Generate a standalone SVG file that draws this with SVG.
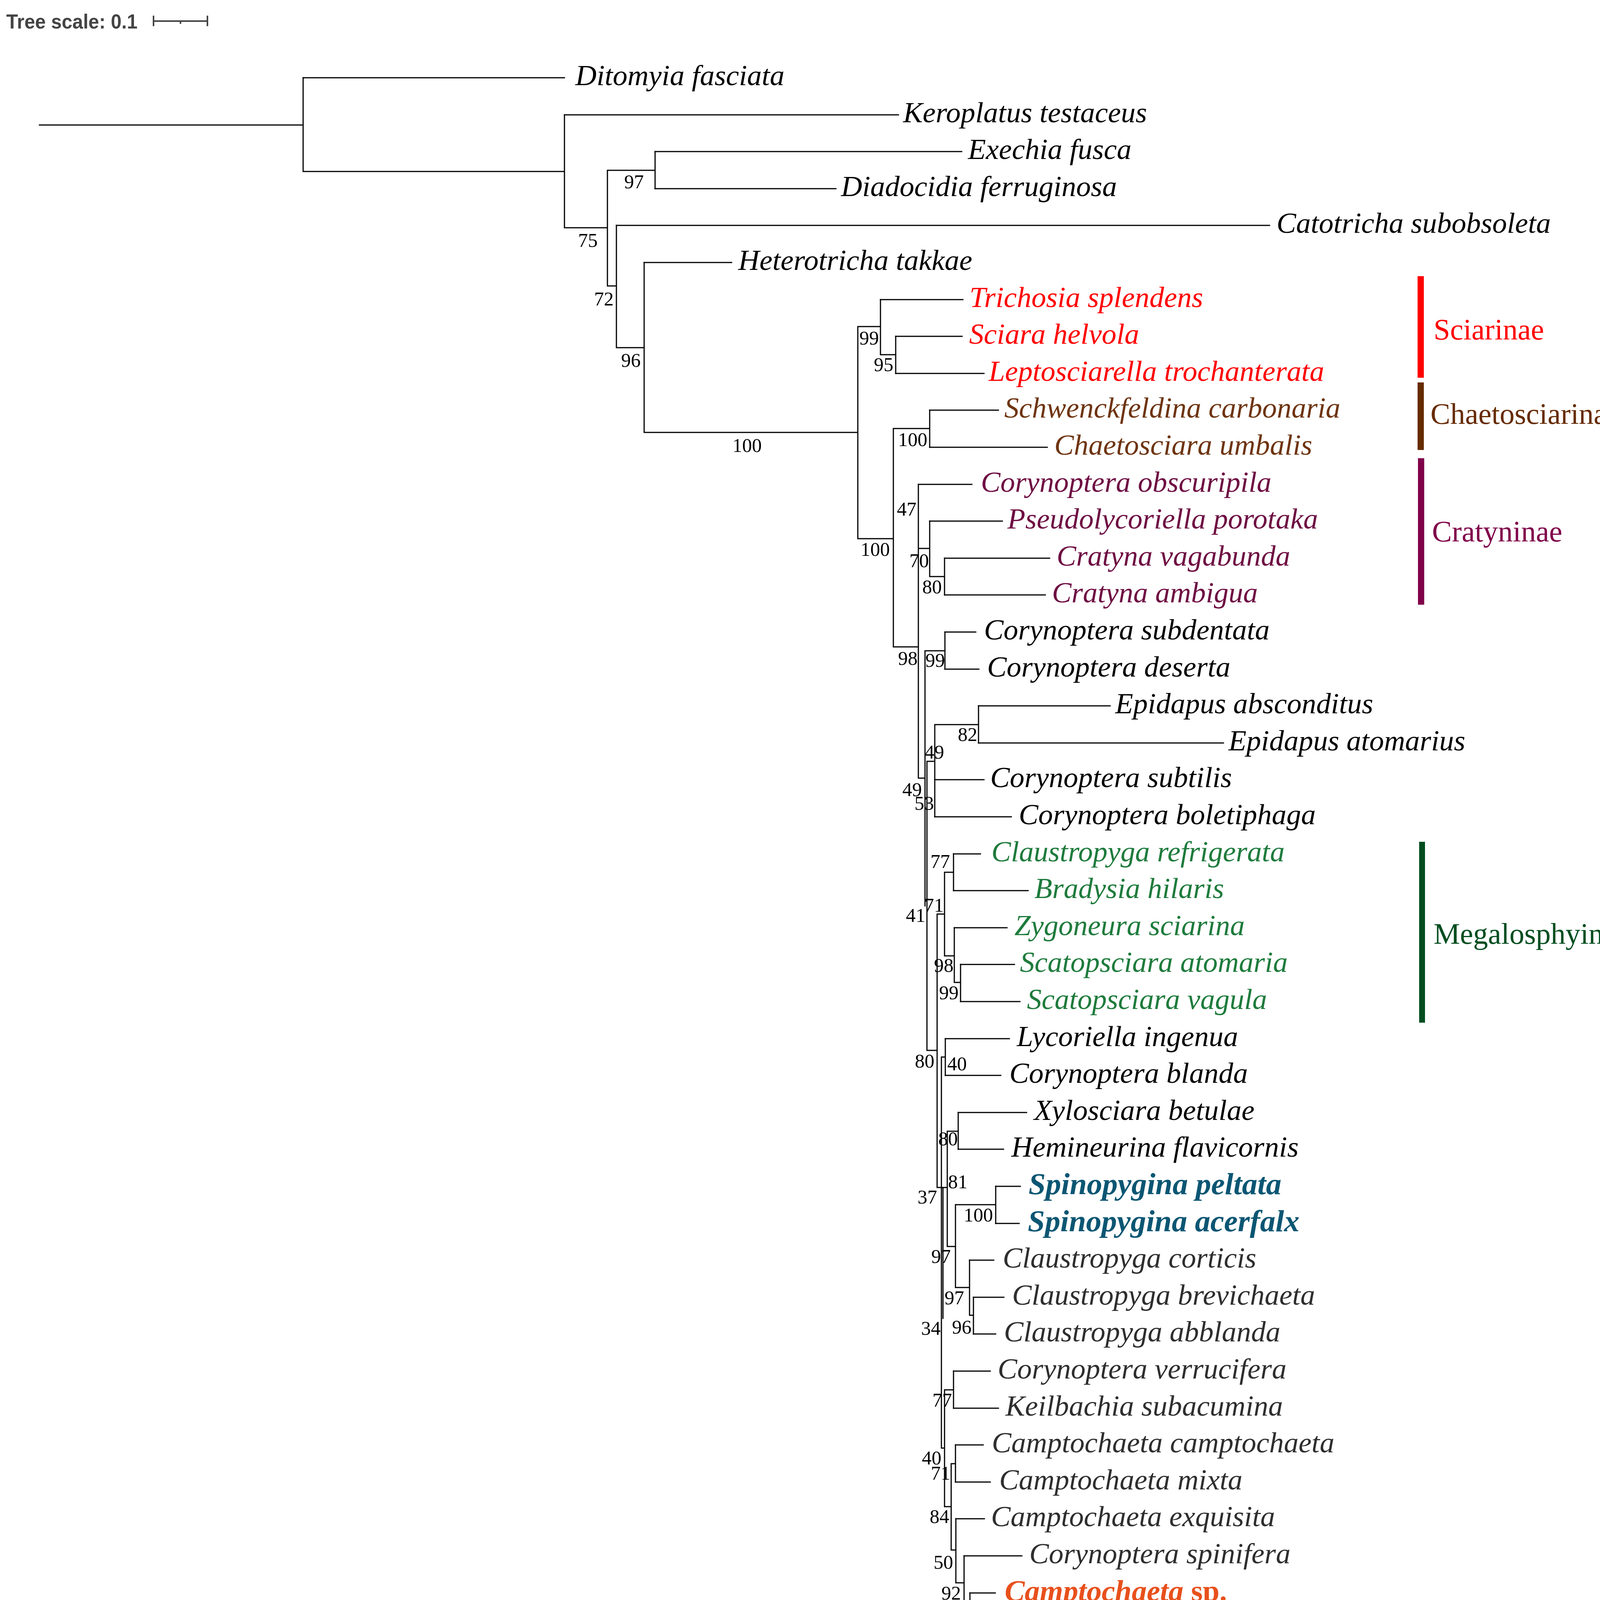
<svg xmlns="http://www.w3.org/2000/svg" width="4201" height="4218" viewBox="0 0 4201 4218">
<style>
.br{fill:none;stroke:#000;stroke-width:3;stroke-linecap:square}
.sp{font-family:"Liberation Serif","Times New Roman",serif;font-style:italic;font-size:75px;fill:#000}
.bs{font-family:"Liberation Serif","Times New Roman",serif;font-size:50px;fill:#000;text-anchor:end}
.sf{font-family:"Liberation Serif","Times New Roman",serif;font-size:76px}
.red{fill:#ff0000}.brn{fill:#6e3410}.pur{fill:#6e0d42}.grn{fill:#1e7b3c}.gry{fill:#2e2e2e}
.blu{fill:#0b5673;font-weight:bold;font-size:79px}
.org{fill:#e8501c;font-weight:bold;font-size:77px}
</style>
<rect width="4201" height="4218" fill="#fff"/>
<g id="tree-scale">
<text x="16" y="73" font-family="Liberation Sans,Arial,sans-serif" font-weight="bold" font-size="52" fill="#444" textLength="336" lengthAdjust="spacingAndGlyphs">Tree scale: 0.1</text>
<path d="M393,54 H531 M393,40 V67 M531,40 V67 M462,54 V61" fill="none" stroke="#444" stroke-width="4"/>
</g>
<g id="connectors">
<path class="br" d="M101,320 H776 M776,199 V439 M776,439 H1445 M1445,294 V583 M1445,583 H1555 M1555,436 V732 M1555,436 H1677 M1677,388 V483 M1555,732 H1578 M1578,577 V890 M1578,890 H1649 M1649,672 V1107 M1649,1107 H2196 M2196,836 V1379 M2196,836 H2254 M2254,767 V908 M2254,908 H2293 M2293,861 V956 M2196,1379 H2287 M2287,1097 V1656 M2287,1097 H2380 M2380,1050 V1145 M2287,1656 H2351 M2351,1240 V1992 M2351,1404 H2380 M2380,1334 V1476 M2380,1476 H2418 M2418,1429 V1523 M2351,1992 H2368 M2368,1666 V2319 M2368,1666 H2419 M2419,1618 V1713 M2373,1949 V2689 M2373,1949 H2393 M2393,1855 V2091 M2393,1855 H2505 M2505,1807 V1902 M2373,2689 H2399 M2399,2340 V3040 M2399,2340 H2418 M2418,2233 V2447 M2418,2233 H2441 M2441,2186 V2280 M2418,2447 H2443 M2443,2375 V2515 M2443,2515 H2459 M2459,2469 V2564 M2399,3040 H2425 M2410,2706 V3707 M2414,3040 V3375 M2410,2706 H2420 M2420,2659 V2753 M2425,2896 V3191 M2425,2896 H2453 M2453,2848 V2942 M2425,3191 H2446 M2446,3084 V3296 M2446,3084 H2549 M2549,3037 V3132 M2446,3296 H2482 M2482,3226 V3367 M2482,3367 H2492 M2492,3321 V3415 M2410,3707 H2418 M2418,3558 V3857 M2418,3558 H2441 M2441,3510 V3605 M2418,3857 H2435 M2435,3747 V3968 M2435,3747 H2446 M2446,3699 V3794 M2435,3968 H2447 M2447,3888 V4052 M2447,4052 H2468 M2468,3983 V4102 M2468,4102 H2483 M2483,4078 V4172"/>
<path class="br" d="M776,199 H1445 M1445,294 H2300 M1677,388 H2462 M1677,483 H2140 M1578,577 H3250 M1649,672 H1873 M2254,767 H2465 M2293,861 H2463 M2293,956 H2519 M2380,1050 H2556 M2380,1145 H2681 M2351,1240 H2488 M2380,1334 H2566 M2418,1429 H2687 M2418,1523 H2676 M2419,1618 H2498 M2419,1713 H2506 M2505,1807 H2842 M2505,1902 H3132 M2393,1996 H2519 M2393,2091 H2589 M2441,2186 H2510 M2441,2280 H2632 M2443,2375 H2578 M2459,2469 H2597 M2459,2564 H2611 M2420,2659 H2584 M2420,2753 H2562 M2453,2848 H2628 M2453,2942 H2569 M2549,3037 H2612 M2549,3132 H2609 M2482,3226 H2544 M2492,3321 H2570 M2492,3415 H2549 M2441,3510 H2535 M2441,3605 H2556 M2446,3699 H2517 M2446,3794 H2535 M2447,3888 H2520 M2468,3983 H2616 M2483,4078 H2548 M2483,4172 H2535"/>
</g>
<g id="taxa">
<g id="t00"><text class="sp" x="1473" y="218">Ditomyia fasciata</text></g>
<g id="t01"><text class="sp" x="2312" y="313">Keroplatus testaceus</text></g>
<g id="t02"><text class="sp" x="2478" y="407">Exechia fusca</text></g>
<g id="t03"><text class="sp" x="2153" y="502">Diadocidia ferruginosa</text></g>
<g id="t04"><text class="sp" x="3268" y="596">Catotricha subobsoleta</text></g>
<g id="t05"><text class="sp" x="1890" y="691">Heterotricha takkae</text></g>
<g id="t06"><text class="sp red" x="2482" y="786">Trichosia splendens</text></g>
<g id="t07"><text class="sp red" x="2481" y="880">Sciara helvola</text></g>
<g id="t08"><text class="sp red" x="2531" y="975">Leptosciarella trochanterata</text></g>
<g id="t09"><text class="sp brn" x="2571" y="1069">Schwenckfeldina carbonaria</text></g>
<g id="t10"><text class="sp brn" x="2699" y="1164">Chaetosciara umbalis</text></g>
<g id="t11"><text class="sp pur" x="2511" y="1259">Corynoptera obscuripila</text></g>
<g id="t12"><text class="sp pur" x="2579" y="1353">Pseudolycoriella porotaka</text></g>
<g id="t13"><text class="sp pur" x="2705" y="1448">Cratyna vagabunda</text></g>
<g id="t14"><text class="sp pur" x="2693" y="1542">Cratyna ambigua</text></g>
<g id="t15"><text class="sp" x="2519" y="1637">Corynoptera subdentata</text></g>
<g id="t16"><text class="sp" x="2527" y="1732">Corynoptera deserta</text></g>
<g id="t17"><text class="sp" x="2855" y="1826">Epidapus absconditus</text></g>
<g id="t18"><text class="sp" x="3145" y="1921">Epidapus atomarius</text></g>
<g id="t19"><text class="sp" x="2535" y="2015">Corynoptera subtilis</text></g>
<g id="t20"><text class="sp" x="2608" y="2110">Corynoptera boletiphaga</text></g>
<g id="t21"><text class="sp grn" x="2538" y="2205">Claustropyga refrigerata</text></g>
<g id="t22"><text class="sp grn" x="2648" y="2299">Bradysia hilaris</text></g>
<g id="t23"><text class="sp grn" x="2597" y="2394">Zygoneura sciarina</text></g>
<g id="t24"><text class="sp grn" x="2611" y="2488">Scatopsciara atomaria</text></g>
<g id="t25"><text class="sp grn" x="2629" y="2583">Scatopsciara vagula</text></g>
<g id="t26"><text class="sp" x="2603" y="2678">Lycoriella ingenua</text></g>
<g id="t27"><text class="sp" x="2584" y="2772">Corynoptera blanda</text></g>
<g id="t28"><text class="sp" x="2647" y="2867">Xylosciara betulae</text></g>
<g id="t29"><text class="sp" x="2589" y="2961">Hemineurina flavicornis</text></g>
<g id="t30"><text class="sp blu" x="2633" y="3057">Spinopygina peltata</text></g>
<g id="t31"><text class="sp blu" x="2631" y="3152">Spinopygina acerfalx</text></g>
<g id="t32"><text class="sp gry" x="2567" y="3245">Claustropyga corticis</text></g>
<g id="t33"><text class="sp gry" x="2591" y="3340">Claustropyga brevichaeta</text></g>
<g id="t34"><text class="sp gry" x="2570" y="3434">Claustropyga abblanda</text></g>
<g id="t35"><text class="sp gry" x="2554" y="3529">Corynoptera verrucifera</text></g>
<g id="t36"><text class="sp gry" x="2574" y="3624">Keilbachia subacumina</text></g>
<g id="t37"><text class="sp gry" x="2539" y="3718">Camptochaeta camptochaeta</text></g>
<g id="t38"><text class="sp gry" x="2558" y="3813">Camptochaeta mixta</text></g>
<g id="t39"><text class="sp gry" x="2537" y="3907">Camptochaeta exquisita</text></g>
<g id="t40"><text class="sp gry" x="2635" y="4002">Corynoptera spinifera</text></g>
<g id="t41"><text class="sp org" x="2572" y="4098">Camptochaeta <tspan font-style="normal">sp.</tspan></text></g>
<g id="t42"><text class="sp gry" x="2558" y="4191">Camptochaeta pellax</text></g>
</g>
<g id="support">
<text class="bs" x="1648" y="482">97</text>
<text class="bs" x="1530" y="632">75</text>
<text class="bs" x="1571" y="782">72</text>
<text class="bs" x="1640" y="939">96</text>
<text class="bs" x="1950" y="1157">100</text>
<text class="bs" x="2250" y="882">99</text>
<text class="bs" x="2287" y="950">95</text>
<text class="bs" x="2374" y="1142">100</text>
<text class="bs" x="2278" y="1423">100</text>
<text class="bs" x="2346" y="1320">47</text>
<text class="bs" x="2378" y="1452">70</text>
<text class="bs" x="2411" y="1519">80</text>
<text class="bs" x="2349" y="1702">98</text>
<text class="bs" x="2419" y="1707">99</text>
<text class="bs" x="2502" y="1897">82</text>
<text class="bs" x="2417" y="1942">49</text>
<text class="bs" x="2360" y="2038">49</text>
<text class="bs" x="2391" y="2073">53</text>
<text class="bs" x="2432" y="2222">77</text>
<text class="bs" x="2416" y="2334">71</text>
<text class="bs" x="2369" y="2360">41</text>
<text class="bs" x="2441" y="2488">98</text>
<text class="bs" x="2454" y="2558">99</text>
<text class="bs" x="2392" y="2733">80</text>
<text class="bs" x="2475" y="2740">40</text>
<text class="bs" x="2452" y="2932">80</text>
<text class="bs" x="2477" y="3042">81</text>
<text class="bs" x="2399" y="3081">37</text>
<text class="bs" x="2542" y="3127">100</text>
<text class="bs" x="2434" y="3233">97</text>
<text class="bs" x="2468" y="3339">97</text>
<text class="bs" x="2487" y="3414">96</text>
<text class="bs" x="2408" y="3417">34</text>
<text class="bs" x="2437" y="3601">77</text>
<text class="bs" x="2410" y="3749">40</text>
<text class="bs" x="2433" y="3788">71</text>
<text class="bs" x="2430" y="3899">84</text>
<text class="bs" x="2440" y="4016">50</text>
<text class="bs" x="2460" y="4095">92</text>
<text class="bs" x="2473" y="4152">91</text>
</g>
<g id="clade-sciarinae">
<rect x="3629" y="707" width="16" height="260" fill="#ff0000"/>
<text class="sf" x="3670" y="869" fill="#ff0000">Sciarinae</text>
</g>
<g id="clade-chaetosciarinae">
<rect x="3629" y="979" width="16" height="173" fill="#662b00"/>
<text class="sf" x="3662" y="1085" fill="#662b00">Chaetosciarinae</text>
</g>
<g id="clade-cratyninae">
<rect x="3630" y="1173" width="16" height="375" fill="#80004a"/>
<text class="sf" x="3666" y="1386" fill="#80004a">Cratyninae</text>
</g>
<g id="clade-megalosphyinae">
<rect x="3633" y="2155" width="15" height="463" fill="#004d1f"/>
<text class="sf" x="3670" y="2416" fill="#004d1f">Megalosphyinae</text>
</g>
</svg>
